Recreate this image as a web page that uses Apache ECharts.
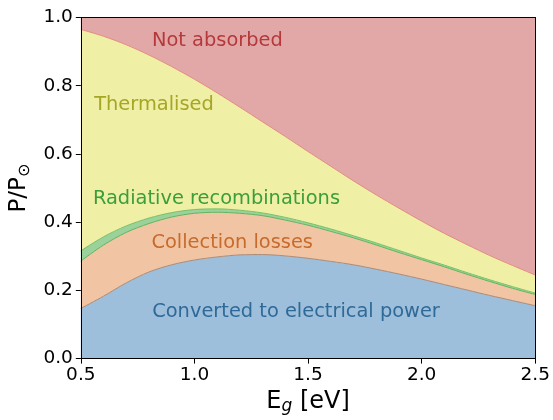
<!DOCTYPE html>
<html>
<head>
<meta charset="utf-8">
<script src="https://cdn.jsdelivr.net/npm/echarts@6/dist/echarts.min.js"></script>
<style>
  html, body { margin: 0; padding: 0; background: #ffffff; overflow: hidden; }
  #chart { width: 553px; height: 420px; }
</style>
</head>
<body>
<div id="chart"></div>
<script>
// Band gap energies (eV)
const bandGap = [0.5, 0.6, 0.7, 0.8, 0.9, 1.0, 1.1, 1.2, 1.3, 1.4, 1.5,
                 1.6, 1.7, 1.8, 1.9, 2.0, 2.1, 2.2, 2.3, 2.4, 2.5];

// Fraction of incident solar power in each loss channel (stacked bottom to top)
const converted   = [0.147, 0.183, 0.222, 0.254, 0.275, 0.289, 0.298, 0.304, 0.305, 0.301, 0.294,
                     0.285, 0.275, 0.262, 0.248, 0.233, 0.217, 0.201, 0.185, 0.170, 0.155];
const collection  = [0.139, 0.150, 0.148, 0.142, 0.140, 0.137, 0.131, 0.122, 0.114, 0.105, 0.097,
                     0.088, 0.079, 0.071, 0.063, 0.057, 0.052, 0.046, 0.041, 0.036, 0.033];
const radiative   = [0.030, 0.024, 0.019, 0.016, 0.013, 0.011, 0.010, 0.009, 0.008, 0.008, 0.007,
                     0.007, 0.006, 0.006, 0.006, 0.005, 0.005, 0.005, 0.005, 0.005, 0.004];
const thermalised = [0.649, 0.588, 0.531, 0.478, 0.428, 0.382, 0.340, 0.302, 0.267, 0.237, 0.209,
                     0.184, 0.161, 0.141, 0.124, 0.108, 0.093, 0.082, 0.071, 0.062, 0.053];
const notAbsorbed = [0.035, 0.055, 0.080, 0.110, 0.144, 0.181, 0.221, 0.263, 0.306, 0.349, 0.393,
                     0.436, 0.479, 0.520, 0.559, 0.597, 0.633, 0.666, 0.698, 0.727, 0.755];

const xTicks = ['0.5', '1.0', '1.5', '2.0', '2.5'];
const yTicks = [0.0, 0.2, 0.4, 0.6, 0.8, 1.0];

// Band labels: text, anchor (band gap, fraction), colour
const bandLabels = [
  { text: 'Not absorbed',                  at: [1.101, 0.931], color: '#b4393b' },
  { text: 'Thermalised',                   at: [0.822, 0.743], color: '#a5a526' },
  { text: 'Radiative recombinations',      at: [1.097, 0.467], color: '#3a9e3a' },
  { text: 'Collection losses',             at: [1.166, 0.340], color: '#c76b2c' },
  { text: 'Converted to electrical power', at: [1.447, 0.136], color: '#2f6998' }
];

const FONT = 'DejaVu Sans';
const categories = bandGap.map(e => e.toFixed(1));

function band(name, vals, fill, edge) {
  return {
    name: name,
    type: 'line',
    stack: 'power',
    data: vals,
    smooth: 0.3,
    symbol: 'none',
    lineStyle: { width: 1, color: edge },
    areaStyle: { color: fill, opacity: 1 },
    emphasis: { disabled: true },
    z: 2
  };
}

const chart = echarts.init(document.getElementById('chart'), null, { renderer: 'canvas', width: 553, height: 420 });

const tickLabelStyle = { fontFamily: FONT, fontSize: 18.5, color: '#000' };
const showTick = (i, v) => xTicks.includes(v);

chart.setOption({
  animation: false,
  backgroundColor: '#ffffff',
  grid: { left: 80, right: 13.5, top: 17.5, bottom: 61.3 },
  xAxis: [{
    type: 'category', data: categories, boundaryGap: false,
    name: '{m|E}{s|g}{m| [eV]}',
    nameLocation: 'middle', nameGap: 28,
    nameTextStyle: {
      rich: {
        m: { fontFamily: FONT, fontSize: 24, color: '#000' },
        s: { fontFamily: FONT, fontSize: 17, fontStyle: 'italic', color: '#000', padding: [10, 0, 0, 0] }
      }
    },
    axisLine: { show: true, lineStyle: { color: '#000', width: 1 } },
    axisTick: { show: true, length: 5, inside: false, interval: showTick, lineStyle: { color: '#000' } },
    axisLabel: Object.assign({ margin: 7, interval: showTick }, tickLabelStyle),
    splitLine: { show: false },
    z: 10
  }, {
    type: 'category', data: categories, boundaryGap: false, position: 'top',
    axisLine: { show: true, onZero: false, lineStyle: { color: '#000', width: 1 } },
    axisTick: { show: false }, axisLabel: { show: false }, splitLine: { show: false },
    z: 10
  }],
  yAxis: [{
    type: 'value', min: 0, max: 1, interval: 0.2,
    name: '{m|P/P}{s|⊙}',
    nameLocation: 'middle', nameGap: 44, nameRotate: 90,
    nameTextStyle: {
      rich: {
        m: { fontFamily: FONT, fontSize: 23, color: '#000' },
        s: { fontFamily: FONT, fontSize: 16, color: '#000', padding: [10, 0, 0, 0] }
      }
    },
    axisLine: { show: true, lineStyle: { color: '#000', width: 1 } },
    axisTick: { show: true, length: 5, inside: false, lineStyle: { color: '#000' } },
    axisLabel: Object.assign({ margin: 8, formatter: v => yTicks.includes(v) ? v.toFixed(1) : '' }, tickLabelStyle),
    splitLine: { show: false },
    z: 10
  }, {
    type: 'value', min: 0, max: 1, position: 'right',
    axisLine: { show: true, onZero: false, lineStyle: { color: '#000', width: 1 } },
    axisTick: { show: false }, axisLabel: { show: false }, splitLine: { show: false },
    z: 10
  }],
  series: [
    band('Converted to electrical power', converted,  '#9ebfdb', '#a88b78'),
    band('Collection losses',             collection, '#f1c4a3', '#62b45c'),
    band('Radiative recombinations',      radiative,  '#9bd19b', '#74c165'),
    band('Thermalised',                   thermalised,'#f0efa6', '#e38b80'),
    band('Not absorbed',                  notAbsorbed,'#e2a8a8', '#e2a8a8')
  ]
});

// Place band labels at their positions (band gap converted to a fractional category index)
const step = bandGap[1] - bandGap[0];
chart.setOption({
  graphic: bandLabels.map(l => {
    const idx = (l.at[0] - bandGap[0]) / step;
    const x0 = chart.convertToPixel({ xAxisIndex: 0 }, 0);
    const x1 = chart.convertToPixel({ xAxisIndex: 0 }, 1);
    const px = x0 + idx * (x1 - x0);
    const py = chart.convertToPixel({ yAxisIndex: 0 }, l.at[1]);
    return {
      type: 'text', x: px, y: py, z: 20,
      style: {
        text: l.text, fill: l.color, font: '19.4px "' + FONT + '"',
        textAlign: 'center', textVerticalAlign: 'middle'
      }
    };
  })
});
</script>
</body>
</html>
